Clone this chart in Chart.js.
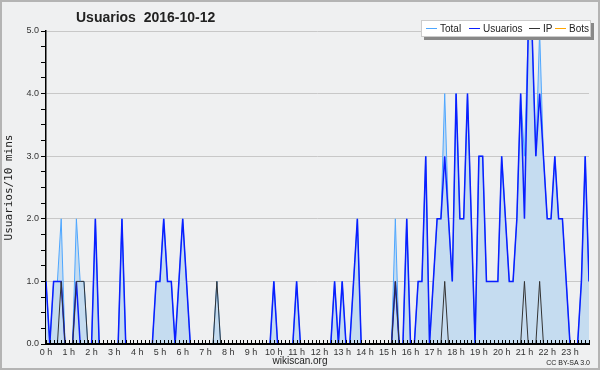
<!DOCTYPE html>
<html>
<head>
<meta charset="utf-8">
<script src="https://cdn.jsdelivr.net/npm/chart.js@4.4.0/dist/chart.umd.min.js"></script>
<style>
  body { margin: 0; background: #fff; }
  #wrap { position: relative; width: 600px; height: 370px; background: #eff0f1; font-family: "Liberation Sans", Arial, sans-serif; color: #222; }
  #wrap::after { content: ''; position: absolute; left: 0; top: 0; right: 0; bottom: 0; border: 2px solid #b4b4b4; pointer-events: none; }
  #title { position: absolute; left: 76px; top: 9px; font-weight: bold; font-size: 14px; white-space: pre; }
  #legend { position: absolute; left: 421px; top: 20px; width: 170px; height: 17px; box-sizing: border-box; background: #fff; border: 1px solid #ccc; box-shadow: 3px 3px 0 #888; font-size: 10px; }
  .item { position: absolute; top: 2px; display: flex; align-items: center; white-space: nowrap; }
  .item i { display: inline-block; width: 11px; border-top: 1.5px solid; margin-right: 3px; }
  #site { position: absolute; left: 0; width: 600px; top: 355px; text-align: center; font-size: 10px; }
  #lic { position: absolute; right: 10px; top: 359px; font-size: 7px; }
</style>
</head>
<body>
<div id="wrap">
  <canvas id="usersChart" width="600" height="370"></canvas>
  <div id="title">Usuarios  2016-10-12</div>
  <div id="legend">
    <span class="item" style="left:4px"><i style="border-color:#4da6ff"></i>Total</span>
    <span class="item" style="left:47px"><i style="border-color:#0a1eff"></i>Usuarios</span>
    <span class="item" style="left:107px"><i style="border-color:#333"></i>IP</span>
    <span class="item" style="left:133px"><i style="border-color:#ffa500"></i>Bots</span>
  </div>
  <div id="site">wikiscan.org</div>
  <div id="lic">CC BY-SA 3.0</div>
</div>
<script>
// one value per 10 minutes, one row per hour
const hourLabels = ['0 h', '1 h', '2 h', '3 h', '4 h', '5 h', '6 h', '7 h', '8 h', '9 h', '10 h', '11 h',
  '12 h', '13 h', '14 h', '15 h', '16 h', '17 h', '18 h', '19 h', '20 h', '21 h', '22 h', '23 h'];

const total = [
  1, 0, 1, 1, 2, 0,
  0, 0, 2, 1, 1, 0,
  0, 2, 0, 0, 0, 0,
  0, 0, 2, 0, 0, 0,
  0, 0, 0, 0, 0, 1,
  1, 2, 1, 1, 0, 1,
  2, 1, 0, 0, 0, 0,
  0, 0, 0, 1, 0, 0,
  0, 0, 0, 0, 0, 0,
  0, 0, 0, 0, 0, 0,
  1, 0, 0, 0, 0, 0,
  1, 0, 0, 0, 0, 0,
  0, 0, 0, 0, 1, 0,
  1, 0, 0, 1, 2, 0,
  0, 0, 0, 0, 0, 0,
  0, 0, 2, 0, 0, 2,
  0, 0, 1, 1, 3, 0,
  1, 2, 2, 4, 2, 1,
  4, 2, 2, 4, 2, 0,
  3, 3, 1, 1, 1, 1,
  3, 2, 1, 1, 2, 4,
  3, 5, 5, 3, 5, 3,
  2, 2, 3, 2, 2, 1,
  0, 0, 0, 1, 3, 1,
];

const usuarios = [
  1, 0, 1, 1, 1, 0,
  0, 0, 1, 0, 0, 0,
  0, 2, 0, 0, 0, 0,
  0, 0, 2, 0, 0, 0,
  0, 0, 0, 0, 0, 1,
  1, 2, 1, 1, 0, 1,
  2, 1, 0, 0, 0, 0,
  0, 0, 0, 0, 0, 0,
  0, 0, 0, 0, 0, 0,
  0, 0, 0, 0, 0, 0,
  1, 0, 0, 0, 0, 0,
  1, 0, 0, 0, 0, 0,
  0, 0, 0, 0, 1, 0,
  1, 0, 0, 1, 2, 0,
  0, 0, 0, 0, 0, 0,
  0, 0, 1, 0, 0, 2,
  0, 0, 1, 1, 3, 0,
  1, 2, 2, 3, 2, 1,
  4, 2, 2, 4, 2, 0,
  3, 3, 1, 1, 1, 1,
  3, 2, 1, 1, 2, 4,
  2, 5, 5, 3, 4, 3,
  2, 2, 3, 2, 2, 1,
  0, 0, 0, 1, 3, 1,
];

const ip = [
  0, 0, 0, 0, 1, 0,
  0, 0, 1, 1, 1, 0,
  0, 0, 0, 0, 0, 0,
  0, 0, 0, 0, 0, 0,
  0, 0, 0, 0, 0, 0,
  0, 0, 0, 0, 0, 0,
  0, 0, 0, 0, 0, 0,
  0, 0, 0, 1, 0, 0,
  0, 0, 0, 0, 0, 0,
  0, 0, 0, 0, 0, 0,
  0, 0, 0, 0, 0, 0,
  0, 0, 0, 0, 0, 0,
  0, 0, 0, 0, 0, 0,
  0, 0, 0, 0, 0, 0,
  0, 0, 0, 0, 0, 0,
  0, 0, 1, 0, 0, 0,
  0, 0, 0, 0, 0, 0,
  0, 0, 0, 1, 0, 0,
  0, 0, 0, 0, 0, 0,
  0, 0, 0, 0, 0, 0,
  0, 0, 0, 0, 0, 0,
  1, 0, 0, 0, 1, 0,
  0, 0, 0, 0, 0, 0,
  0, 0, 0, 0, 0, 0,
];

const bots = [
  0, 0, 0, 0, 0, 0, 0, 0, 0, 0, 0, 0,
  0, 0, 0, 0, 0, 0, 0, 0, 0, 0, 0, 0,
  0, 0, 0, 0, 0, 0, 0, 0, 0, 0, 0, 0,
  0, 0, 0, 0, 0, 0, 0, 0, 0, 0, 0, 0,
  0, 0, 0, 0, 0, 0, 0, 0, 0, 0, 0, 0,
  0, 0, 0, 0, 0, 0, 0, 0, 0, 0, 0, 0,
  0, 0, 0, 0, 0, 0, 0, 0, 0, 0, 0, 0,
  0, 0, 0, 0, 0, 0, 0, 0, 0, 0, 0, 0,
  0, 0, 0, 0, 0, 0, 0, 0, 0, 0, 0, 0,
  0, 0, 0, 0, 0, 0, 0, 0, 0, 0, 0, 0,
  0, 0, 0, 0, 0, 0, 0, 0, 0, 0, 0, 0,
  0, 0, 0, 0, 0, 0, 0, 0, 0, 0, 0, 0,
];

const toPoints = (arr) => arr.map((v, i) => ({ x: i, y: v }));

// small inward tick marks + thick bottom axis, drawn over the lines
const xAxisMarks = {
  id: 'xAxisMarks',
  afterDatasetsDraw(chart) {
    const { ctx, chartArea, scales: { x } } = chart;
    ctx.save();
    ctx.strokeStyle = '#000';
    ctx.lineWidth = 1;
    x.ticks.forEach((t) => {
      const px = Math.round(x.getPixelForValue(t.value)) + 0.5;
      ctx.beginPath();
      ctx.moveTo(px, chartArea.bottom);
      ctx.lineTo(px, chartArea.bottom - 4);
      ctx.stroke();
    });
    ctx.lineWidth = 2;
    ctx.beginPath();
    ctx.moveTo(chartArea.left, chartArea.bottom);
    ctx.lineTo(chartArea.right + 1, chartArea.bottom);
    ctx.stroke();
    ctx.restore();
  },
};

// eslint-disable-next-line no-undef
new Chart(document.getElementById('usersChart'), {
  type: 'line',
  data: {
    datasets: [
      { label: 'IP', data: toPoints(ip), borderColor: '#333', borderWidth: 1, pointRadius: 0, tension: 0 },
      { label: 'Usuarios', data: toPoints(usuarios), borderColor: '#0a1eff', borderWidth: 1.5, pointRadius: 0, tension: 0 },
      {
        label: 'Total',
        data: toPoints(total),
        borderColor: '#4da6ff',
        backgroundColor: '#c5dcf0',
        fill: 'origin',
        borderWidth: 1,
        pointRadius: 0,
        tension: 0,
      },
      { label: 'Bots', data: toPoints(bots), borderColor: '#ffa500', borderWidth: 1, pointRadius: 0, tension: 0 },
    ],
  },
  options: {
    responsive: false,
    animation: false,
    devicePixelRatio: 1,
    parsing: false,
    layout: { padding: { top: 31, right: 11, left: 0, bottom: 0 } },
    plugins: { legend: { display: false }, tooltip: { enabled: false }, title: { display: false } },
    scales: {
      x: {
        type: 'linear',
        min: 0,
        max: 143,
        afterFit: (s) => { s.height = 26; },
        border: { display: false },
        grid: { display: true, drawOnChartArea: false, drawTicks: false },
        ticks: {
          stepSize: 1,
          autoSkip: false,
          maxRotation: 0,
          padding: 3,
          color: '#333',
          font: { family: 'Liberation Sans', size: 9 },
          callback: (v) => (v % 6 === 0 ? hourLabels[v / 6] : ''),
        },
      },
      y: {
        min: 0,
        max: 5,
        afterFit: (s) => { s.width = 46; },
        border: { color: '#000', width: 1.5 },
        grid: {
          color: (c) => (c.tick && Number.isInteger(c.tick.value) && c.tick.value > 0 ? '#c8c8c8' : 'rgba(0,0,0,0)'),
          tickColor: '#000',
          tickLength: 5,
        },
        ticks: {
          stepSize: 0.25,
          autoSkip: false,
          padding: 2,
          color: '#333',
          font: { family: 'Liberation Sans', size: 9 },
          callback: (v) => (Number.isInteger(v) ? v.toFixed(1) : ''),
        },
        title: {
          display: true,
          text: 'Usuarios/10 mins',
          color: '#222',
          font: { family: 'DejaVu Sans Mono', size: 11 },
          padding: { top: 3, bottom: 0 },
        },
      },
    },
  },
  plugins: [xAxisMarks],
});
</script>
</body>
</html>
